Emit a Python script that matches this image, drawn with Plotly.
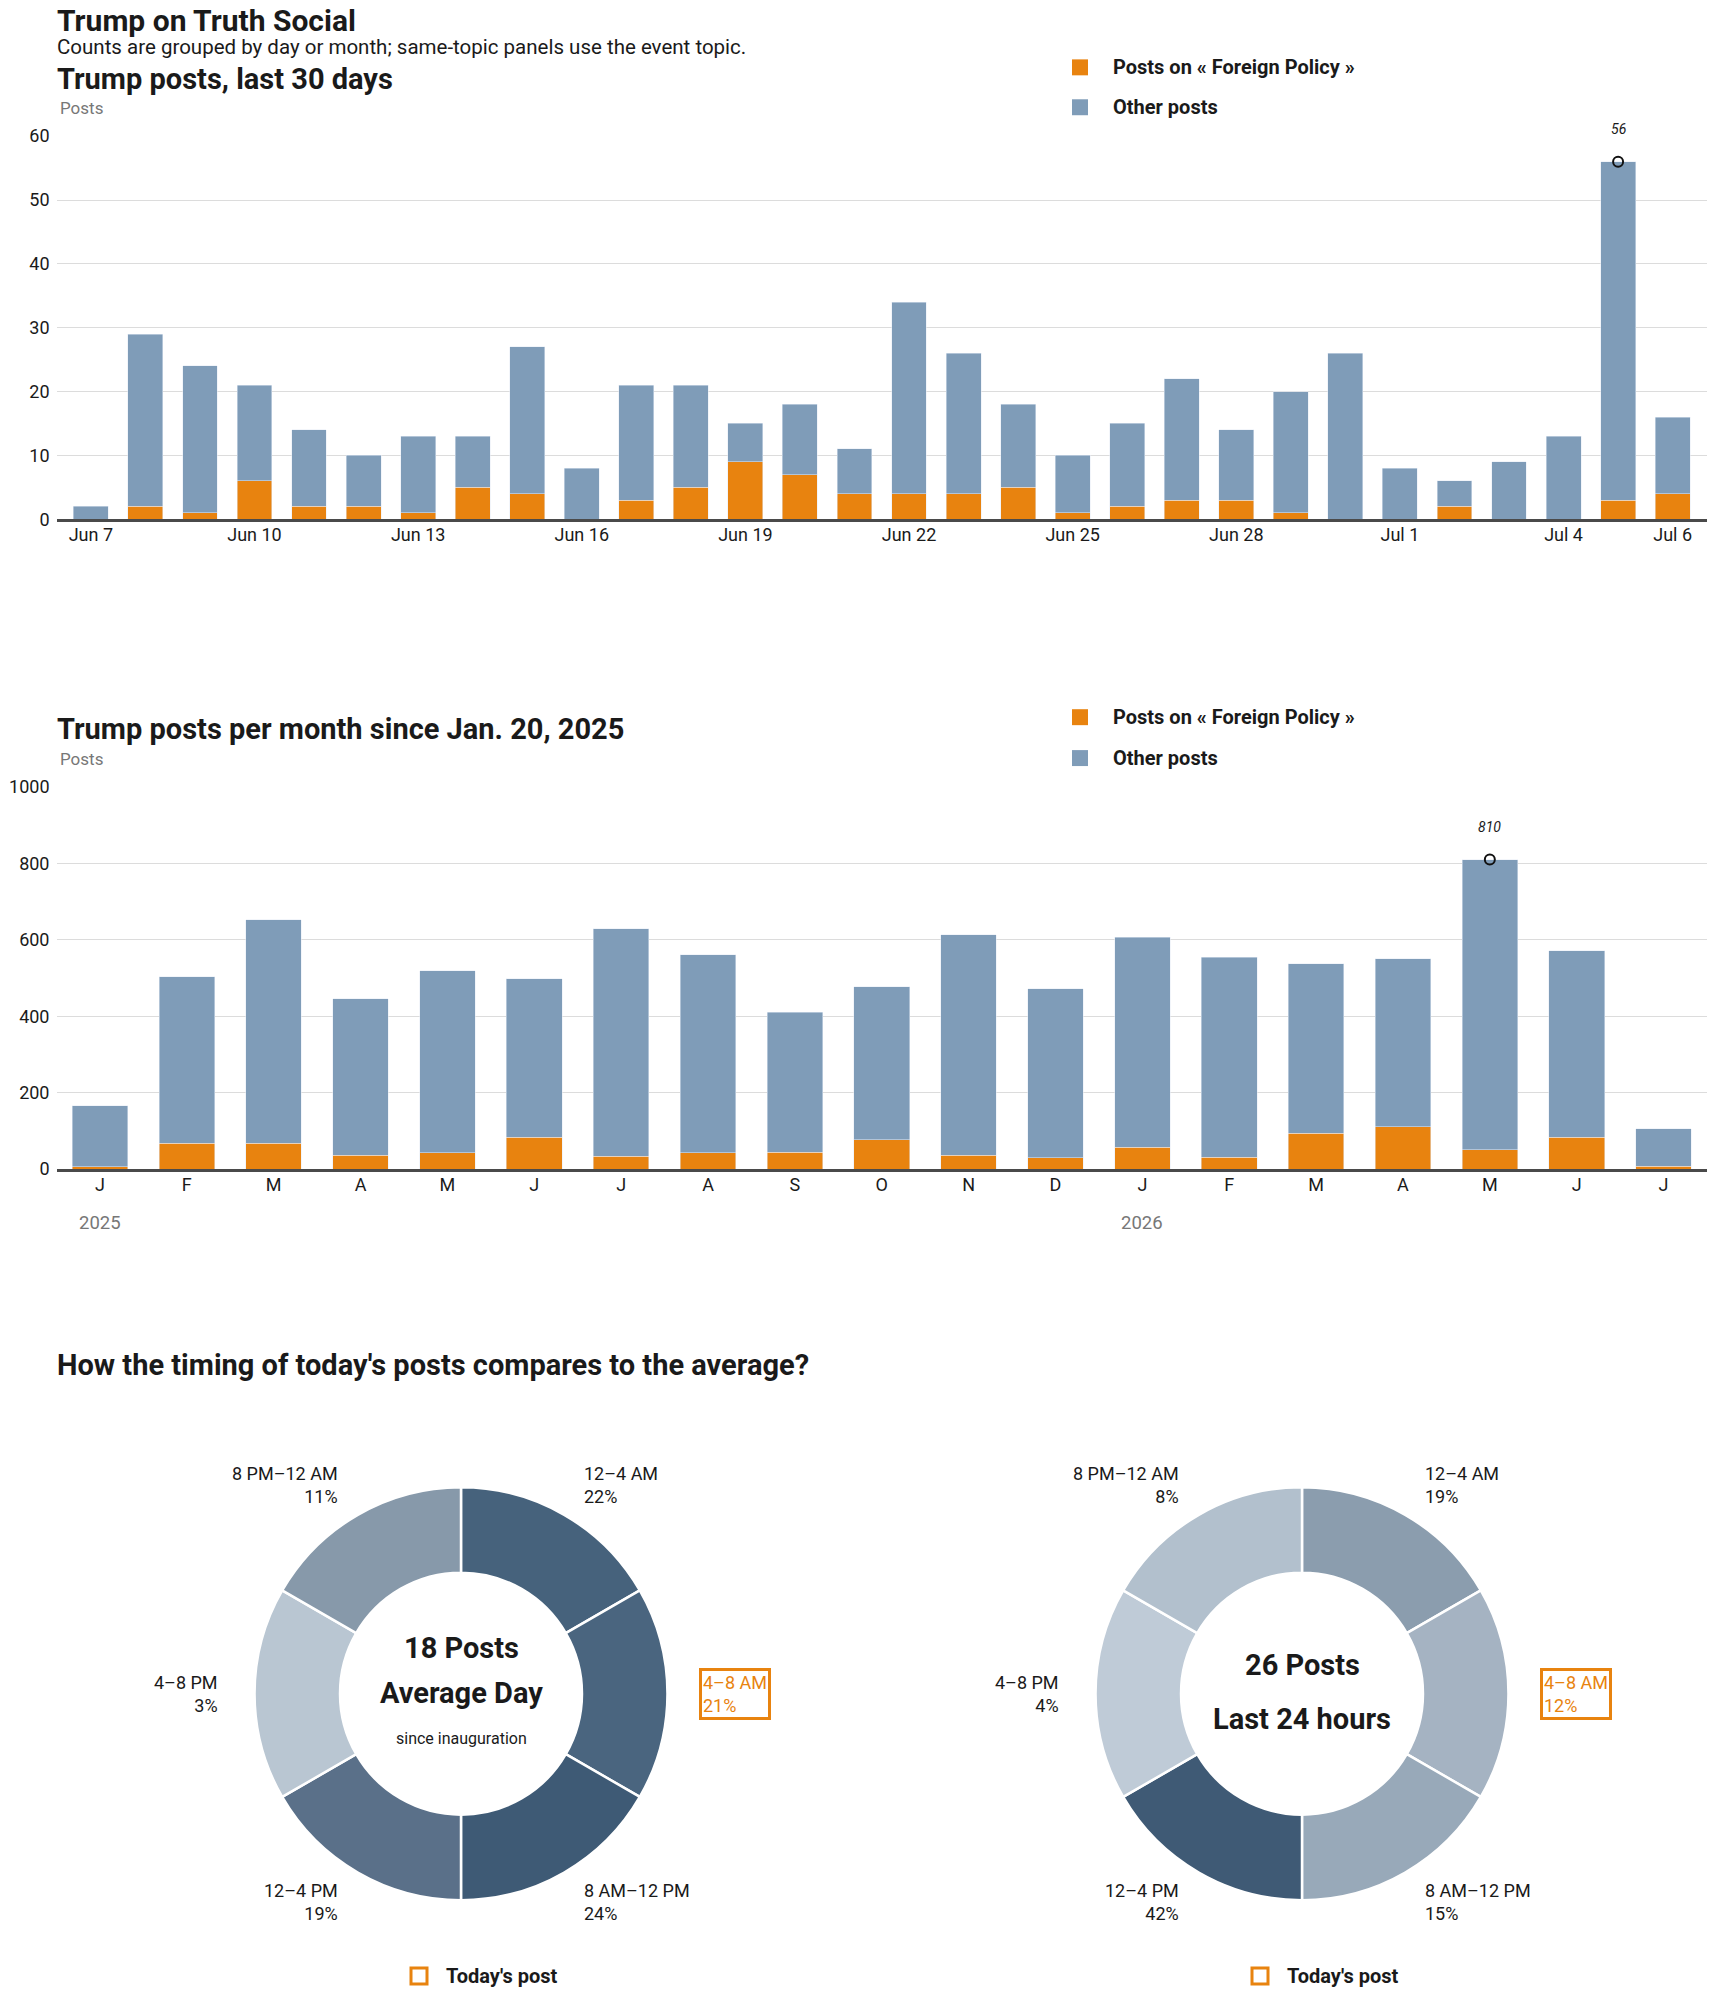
import plotly.graph_objects as go

W, H = 1711, 1991

# ---------------- data ----------------
days = ["Jun 7", "Jun 8", "Jun 9", "Jun 10", "Jun 11", "Jun 12", "Jun 13", "Jun 14", "Jun 15",
        "Jun 16", "Jun 17", "Jun 18", "Jun 19", "Jun 20", "Jun 21", "Jun 22", "Jun 23", "Jun 24",
        "Jun 25", "Jun 26", "Jun 27", "Jun 28", "Jun 29", "Jun 30", "Jul 1", "Jul 2", "Jul 3",
        "Jul 4", "Jul 5", "Jul 6"]
day_foreign = [0, 2, 1, 6, 2, 2, 1, 5, 4, 0, 3, 5, 9, 7, 4, 4, 4, 5, 1, 2, 3, 3, 1, 0, 0, 2, 0, 0, 3, 4]
day_other = [2, 27, 23, 15, 12, 8, 12, 8, 23, 8, 18, 16, 6, 11, 7, 30, 22, 13, 9, 13, 19, 11, 19, 26,
             8, 4, 9, 13, 53, 12]
day_ticks = ["Jun 7", "Jun 10", "Jun 13", "Jun 16", "Jun 19", "Jun 22", "Jun 25", "Jun 28",
             "Jul 1", "Jul 4", "Jul 6"]

months = ["Jan 2025", "Feb 2025", "Mar 2025", "Apr 2025", "May 2025", "Jun 2025", "Jul 2025",
          "Aug 2025", "Sep 2025", "Oct 2025", "Nov 2025", "Dec 2025", "Jan 2026", "Feb 2026",
          "Mar 2026", "Apr 2026", "May 2026", "Jun 2026", "Jul 2026"]
month_labels = ["J", "F", "M", "A", "M", "J", "J", "A", "S", "O", "N", "D", "J", "F", "M", "A",
                "M", "J", "J"]
month_foreign = [6, 68, 68, 36, 42, 83, 33, 42, 44, 76, 36, 29, 57, 31, 94, 111, 51, 83, 7]
month_other = [160, 435, 584, 410, 477, 415, 596, 519, 367, 401, 577, 443, 550, 524, 443, 439,
               759, 488, 99]
year_labels = [("Jan 2025", "2025"), ("Jan 2026", "2026")]

time_slots = ["12–4 AM", "4–8 AM", "8 AM–12 PM", "12–4 PM", "4–8 PM", "8 PM–12 AM"]
slot_hours = [4, 4, 4, 4, 4, 4]
avg_pct = [22, 21, 24, 19, 3, 11]
today_pct = [19, 12, 15, 42, 4, 8]
avg_posts = 18
today_posts = 26
today_slot = "4–8 AM"

# ---------------- styles ----------------
ORANGE = "#E8830F"
BLUE = "#7F9CB8"
GRID = "#DCDCDC"
TXT = "#1A1A1A"
GREY = "#777777"
FONT = "Roboto, Liberation Sans, sans-serif"
avg_colors = ["#46627C", "#4A657F", "#3E5A75", "#5A7089", "#B9C6D2", "#8799AA"]
today_colors = ["#8B9DAE", "#A5B3C2", "#98A9B9", "#3F5A75", "#BFCBD7", "#B2C0CD"]


def py(px):
    # compensate the page's top offset / slight vertical scaling
    if px < 650:
        px -= 2.5
    return 1 - ((px - 8) / 0.992) / H


def pxx(px):
    return px / W


fig = go.Figure()

# ---------- daily chart ----------
fig.add_trace(go.Bar(x=days, y=day_foreign, marker_color=ORANGE, width=0.64,
                     xaxis="x", yaxis="y", showlegend=False))
fig.add_trace(go.Bar(x=days, y=day_other, marker_color=BLUE, width=0.64,
                     xaxis="x", yaxis="y", showlegend=False))
day_total = [a + b for a, b in zip(day_foreign, day_other)]
dmax = max(day_total)
dcat = days[day_total.index(dmax)]
fig.add_trace(go.Scatter(x=[dcat], y=[dmax], mode="markers", xaxis="x", yaxis="y",
                         marker=dict(symbol="circle-open", size=10, color="#111",
                                     line=dict(width=2, color="#111")),
                         showlegend=False, cliponaxis=False))

# ---------- monthly chart ----------
fig.add_trace(go.Bar(x=months, y=month_foreign, marker_color=ORANGE, width=0.64,
                     xaxis="x2", yaxis="y2", showlegend=False))
fig.add_trace(go.Bar(x=months, y=month_other, marker_color=BLUE, width=0.64,
                     xaxis="x2", yaxis="y2", showlegend=False))
month_total = [a + b for a, b in zip(month_foreign, month_other)]
mmax = max(month_total)
mcat = months[month_total.index(mmax)]
fig.add_trace(go.Scatter(x=[mcat], y=[mmax], mode="markers", xaxis="x2", yaxis="y2",
                         marker=dict(symbol="circle-open", size=10, color="#111",
                                     line=dict(width=2, color="#111")),
                         showlegend=False, cliponaxis=False))

# ---------- donuts ----------
R = 207
CY = 1695
for cx, pct, cols in [(461, avg_pct, avg_colors), (1302, today_pct, today_colors)]:
    fig.add_trace(go.Pie(labels=time_slots, values=slot_hours, sort=False, direction="clockwise",
                         rotation=0, hole=0.586, textinfo="none", hoverinfo="label",
                         customdata=pct,
                         marker=dict(colors=cols, line=dict(color="white", width=2.5)),
                         domain=dict(x=[pxx(cx - R), pxx(cx + R)], y=[py(CY + R), py(CY - R)]),
                         showlegend=False))

axis_common = dict(showgrid=False, zeroline=False, showline=True, linecolor="#4A4A4A",
                   linewidth=3, ticks="", ticklabelstandoff=-3,
                   tickfont=dict(family=FONT, size=18, color=TXT), fixedrange=True)
yaxis_common = dict(showgrid=True, gridcolor=GRID, gridwidth=1, zeroline=False, showline=False,
                    ticks="", ticklabelstandoff=6,
                    tickfont=dict(family=FONT, size=18, color=TXT), fixedrange=True)

fig.update_layout(
    width=W, height=H, margin=dict(l=0, r=0, t=0, b=0),
    paper_bgcolor="white", plot_bgcolor="white", barmode="stack", bargap=0.36,
    xaxis=dict(domain=[pxx(56.5), pxx(1707)], anchor="y", type="category",
               categoryorder="array", categoryarray=days,
               tickvals=day_ticks, ticktext=day_ticks, range=[-0.63, 29.63], **axis_common),
    yaxis=dict(domain=[py(520), py(136)], anchor="x", range=[0, 60], dtick=10, **yaxis_common),
    xaxis2=dict(domain=[pxx(56.5), pxx(1707)], anchor="y2", type="category",
                categoryorder="array", categoryarray=months,
                tickvals=months, ticktext=month_labels, range=[-0.5, 18.5], **axis_common),
    yaxis2=dict(domain=[py(1169), py(786)], anchor="x2", range=[0, 1000], dtick=200,
                **yaxis_common),
)

ann = []
shapes = []


def text(x, y, s, size=17, bold=False, color=TXT, xanchor="left", **kw):
    ann.append(dict(xref="paper", yref="paper", x=pxx(x), y=py(y), text=s, showarrow=False,
                    xanchor=xanchor, yanchor="middle",
                    align=xanchor if xanchor != "center" else "center",
                    font=dict(family=FONT, size=size, color=color,
                              weight="bold" if bold else "normal"), **kw))


text(54.5, 20, "Trump on Truth Social", 30, True)
text(55, 47, "Counts are grouped by day or month; same-topic panels use the event topic.", 20.5)
text(54.5, 79, "Trump posts, last 30 days", 29, True)
text(58, 108, "Posts", 17, color=GREY)
text(54.5, 728, "Trump posts per month since Jan. 20, 2025", 29, True)
text(58, 758, "Posts", 17, color=GREY)
text(54.5, 1365, "How the timing of today's posts compares to the average?", 29, True)

# legends for bar charts
for y1, y2 in [(67, 107), (716, 757)]:
    for yy, col, lab in [(y1, ORANGE, "Posts on « Foreign Policy »"), (y2, BLUE, "Other posts")]:
        shapes.append(dict(type="rect", xref="paper", yref="paper", x0=pxx(1072), x1=pxx(1088),
                           y0=py(yy + 8), y1=py(yy - 8), fillcolor=col, line=dict(width=0)))
        text(1111, yy, lab, 20, True)

# peak labels
ann.append(dict(xref="x", yref="y", x=dcat, y=dmax, text=str(dmax), showarrow=False,
                yshift=33, font=dict(family=FONT, size=14, color=TXT, style="italic")))
ann.append(dict(xref="x2", yref="y2", x=mcat, y=mmax, text=str(mmax), showarrow=False,
                yshift=33, font=dict(family=FONT, size=14, color=TXT, style="italic")))

# year labels
for cat, lab in year_labels:
    ann.append(dict(xref="x2", yref="paper", x=cat, y=py(1223), text=lab, showarrow=False,
                    xanchor="center", yanchor="middle",
                    font=dict(family=FONT, size=18.5, color=GREY)))

# donut labels
offsets = [(121, -209, "left"), (241, 0, "left"), (121, 209, "left"),
           (-121, 209, "right"), (-241, 0, "right"), (-121, -209, "right")]
for cx, pct, top, bottom, sub in [(461, avg_pct, f"{avg_posts} Posts", "Average Day", "since inauguration"),
                                  (1302, today_pct, f"{today_posts} Posts", "Last 24 hours", None)]:
    for slot, p, (dx, dy, anc) in zip(time_slots, pct, offsets):
        s = f"{slot}<br>{p}%"
        if slot == today_slot:
            text(cx + dx - 3, CY + dy, s, 18, color=ORANGE, xanchor=anc,
                 bordercolor=ORANGE, borderwidth=3, borderpad=1)
        else:
            text(cx + dx, CY + dy, s, 18, xanchor=anc)
    if sub:
        text(cx, CY - 46, top, 29, True, xanchor="center")
        text(cx, CY - 1, bottom, 29, True, xanchor="center")
        text(cx, CY + 45, sub, 16, xanchor="center")
    else:
        text(cx, CY - 29, top, 29, True, xanchor="center")
        text(cx, CY + 25, bottom, 29, True, xanchor="center")
    # today's post legend
    lx = cx - 42
    shapes.append(dict(type="rect", xref="paper", yref="paper", x0=pxx(lx - 8), x1=pxx(lx + 8),
                       y0=py(1978 + 8), y1=py(1978 - 8), fillcolor="white",
                       line=dict(color=ORANGE, width=3)))
    text(lx + 25, 1978, "Today's post", 20, True)

fig.update_layout(annotations=ann, shapes=shapes)
fig.write_html("out.html")
